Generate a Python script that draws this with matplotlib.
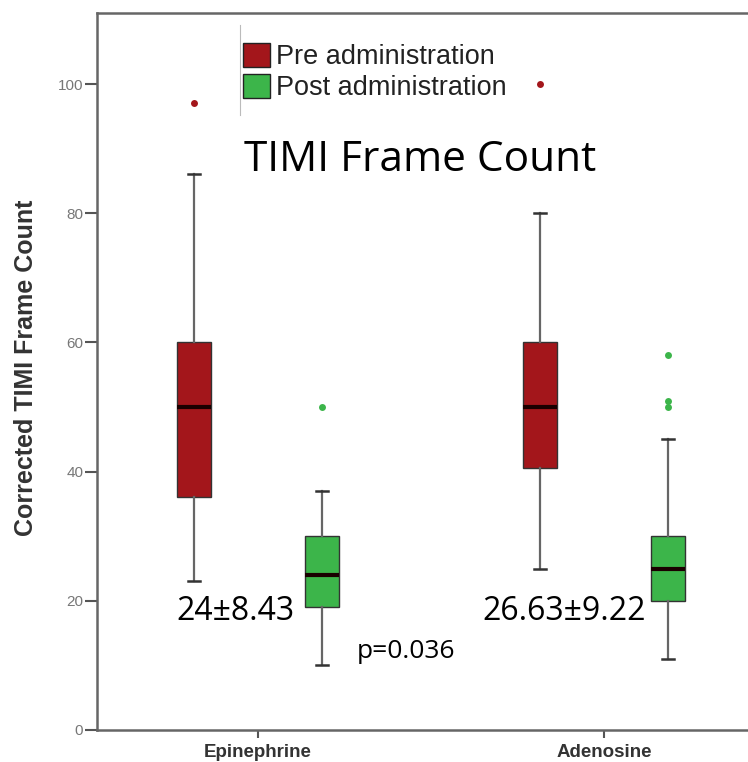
import matplotlib
matplotlib.use('Agg')
import matplotlib.pyplot as plt
from matplotlib.patches import Patch

# data
drugs = ['Epinephrine', 'Adenosine']
groups = ['Pre administration', 'Post administration']
colors = ['#A3161B', '#3CB54A']

whislo = [[23, 10], [25, 11]]
q1 = [[36, 19], [40.5, 20]]
med = [[50, 24], [50, 25]]
q3 = [[60, 30], [60, 30]]
whishi = [[86, 37], [80, 45]]
fliers = [[[97], [50]], [[100], [50, 51, 58]]]

mean_sd = ['24\u00b18.43', '26.63\u00b19.22']
p_text = 'p=0.036'

fig = plt.figure(figsize=(7.48, 7.62), dpi=100)
ax = fig.add_axes([0.1297, 0.042, 0.893, 0.941])

offs = [-0.185, 0.185]
for i, d in enumerate(drugs):
    for j, g in enumerate(groups):
        st = [dict(whislo=whislo[i][j], q1=q1[i][j], med=med[i][j],
                   q3=q3[i][j], whishi=whishi[i][j], fliers=fliers[i][j])]
        ax.bxp(st, positions=[i + offs[j]], widths=0.098, patch_artist=True,
               boxprops=dict(facecolor=colors[j], edgecolor='#333333', linewidth=1),
               medianprops=dict(color='#1a0000', linewidth=3),
               whiskerprops=dict(color='#666666', linewidth=1.6),
               capprops=dict(color='#333333', linewidth=1.8),
               capwidths=0.035,
               flierprops=dict(marker='o', markersize=5, markerfacecolor=colors[j],
                               markeredgecolor='none'))

ax.set_xlim(-0.465, 1.465)
ax.set_ylim(0, 111)
ax.set_xticks(range(len(drugs)))
ax.set_xticklabels(drugs, fontsize=13.5, fontweight='bold', color='#333333',
                   family='Liberation Sans')
ax.set_yticks([0, 20, 40, 60, 80, 100])
ax.set_yticklabels([0, 20, 40, 60, 80, 100], family='Liberation Sans')
ax.tick_params(axis='y', labelsize=11, labelcolor='#777777', color='#555555',
               length=9, width=1.5, pad=1)
ax.tick_params(axis='x', color='#555555', length=6, width=1.5, pad=4)
ax.set_ylabel('Corrected TIMI Frame Count', fontsize=18, fontweight='bold',
              color='#333333', family='Liberation Sans')
ax.yaxis.set_label_coords(-0.088, 0.505)
for s in ax.spines.values():
    s.set_color('#666666')
    s.set_linewidth(1.8)

handles = [Patch(facecolor=c, edgecolor='#222222', label=g) for c, g in zip(colors, groups)]
leg = ax.legend(handles=handles, loc='upper left', bbox_to_anchor=(0.219, 0.958),
                frameon=False, handlelength=1.0, handleheight=1.0,
                handletextpad=0.22, labelspacing=0.12, borderaxespad=0, borderpad=0,
                prop=dict(family='Liberation Sans', size=19.5))
for t in leg.get_texts():
    t.set_color('#222222')
ax.plot([0.214, 0.214], [0.858, 0.983], transform=ax.transAxes, color='#bbbbbb',
        linewidth=0.8, clip_on=False)

ax.text(0.468, 88.2, 'TIMI Frame Count', fontsize=30.5, family='Open Sans',
        ha='center', va='center')
ax.text(-0.066, 18.3, mean_sd[0], fontsize=23, family='Open Sans', ha='center', va='center')
ax.text(0.884, 18.3, mean_sd[1], fontsize=23, family='Open Sans', ha='center', va='center')
ax.text(0.428, 12.1, p_text, fontsize=19, family='Open Sans', ha='center', va='center')

fig.savefig('out.png', dpi=100)
